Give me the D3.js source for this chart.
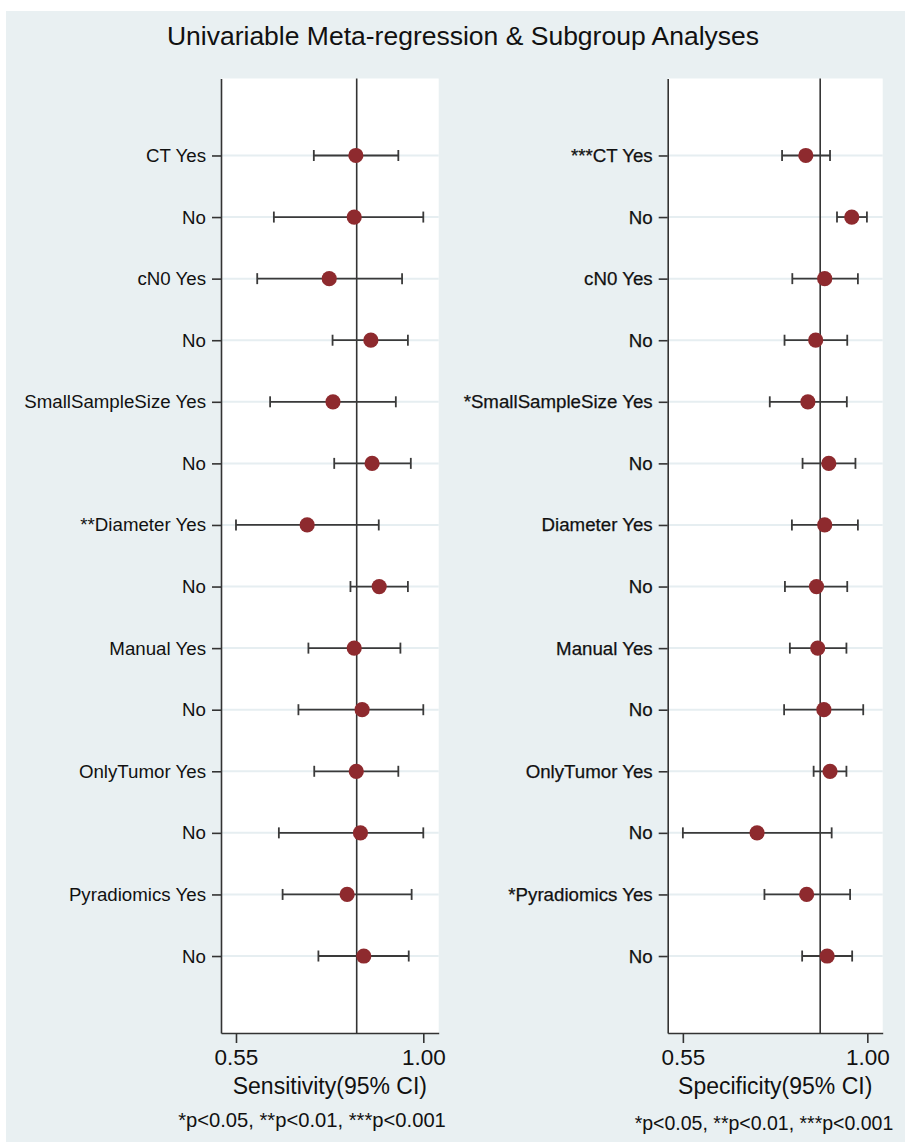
<!DOCTYPE html>
<html>
<head>
<meta charset="utf-8">
<script src="https://cdn.jsdelivr.net/npm/d3@7"></script>
<style>
  html, body { margin: 0; padding: 0; background: #ffffff; }
  svg { display: block; font-family: "Liberation Sans", Arial, Helvetica, sans-serif; }
</style>
</head>
<body>
<svg id="chart" width="905" height="1142"></svg>
<script>
// Subgroup rows, top to bottom
const sensLabels = ["CT Yes", "No", "cN0 Yes", "No", "SmallSampleSize Yes", "No",
  "**Diameter Yes", "No", "Manual Yes", "No", "OnlyTumor Yes", "No", "Pyradiomics Yes", "No"];
const specLabels = ["***CT Yes", "No", "cN0 Yes", "No", "*SmallSampleSize Yes", "No",
  "Diameter Yes", "No", "Manual Yes", "No", "OnlyTumor Yes", "No", "*Pyradiomics Yes", "No"];

// Sensitivity estimates with 95% CI
const sensEst  = [0.838, 0.834, 0.774, 0.874, 0.783, 0.877, 0.721, 0.894, 0.834, 0.853, 0.839, 0.849, 0.817, 0.857];
const sensLow  = [0.737, 0.641, 0.601, 0.782, 0.632, 0.786, 0.550, 0.825, 0.724, 0.700, 0.738, 0.653, 0.662, 0.748];
const sensHigh = [0.940, 1.000, 0.949, 0.963, 0.934, 0.970, 0.893, 0.963, 0.945, 1.000, 0.940, 1.000, 0.972, 0.965];

// Specificity estimates with 95% CI
const specEst  = [0.850, 0.962, 0.896, 0.874, 0.855, 0.906, 0.896, 0.876, 0.879, 0.894, 0.909, 0.731, 0.852, 0.902];
const specLow  = [0.792, 0.926, 0.817, 0.798, 0.762, 0.842, 0.816, 0.799, 0.811, 0.797, 0.869, 0.550, 0.749, 0.841];
const specHigh = [0.909, 0.999, 0.977, 0.951, 0.950, 0.971, 0.977, 0.951, 0.949, 0.990, 0.949, 0.913, 0.958, 0.963];

// Pooled estimates (vertical reference lines)
const sensPooled = 0.840;
const specPooled = 0.885;

const xTicks = [0.55, 1.00];
const footnote = "*p<0.05, **p<0.01, ***p<0.001";

const svg = d3.select("#chart");
const W = 905, H = 1142;

// Graph region background
svg.append("rect").attr("x", 6).attr("y", 11).attr("width", W - 6).attr("height", H - 11)
  .attr("fill", "#e9f0f2");

svg.append("text")
  .attr("x", 463).attr("y", 45)
  .attr("text-anchor", "middle")
  .attr("font-size", 26.5)
  .attr("fill", "#111")
  .text("Univariable Meta-regression & Subgroup Analyses");

const plotTop = 78.5, plotBottom = 1033;
const rowIdx = d3.range(1, 15);
const y = d3.scaleLinear().domain([-0.25, 15.25]).range([plotTop, plotBottom]);

function panel(opts) {
  const { x0, x1, domain, labels, est, low, high, pooled, title, labelStroke, footX, footY, footSize } = opts;
  const x = d3.scaleLinear().domain(domain).range([x0, x1]);
  const g = svg.append("g");

  // plot area
  g.append("rect").attr("x", x0).attr("y", plotTop)
    .attr("width", x1 - x0).attr("height", plotBottom - plotTop)
    .attr("fill", "#ffffff");

  // horizontal gridlines at each row
  g.selectAll("line.grid").data(rowIdx).join("line")
    .attr("class", "grid")
    .attr("x1", x0).attr("x2", x1)
    .attr("y1", d => y(d)).attr("y2", d => y(d))
    .attr("stroke", "#e6eef1").attr("stroke-width", 2);

  // pooled reference line
  g.append("line")
    .attr("x1", x(pooled)).attr("x2", x(pooled))
    .attr("y1", plotTop).attr("y2", plotBottom)
    .attr("stroke", "#333").attr("stroke-width", 1.6);

  // y axis
  const yAxis = d3.axisLeft(y).tickValues(rowIdx)
    .tickFormat(d => labels[d - 1]).tickSize(9).tickPadding(6).tickSizeOuter(0);
  const ya = g.append("g").attr("transform", `translate(${x0},0)`).call(yAxis);
  ya.select(".domain").attr("stroke", "#333").attr("stroke-width", 1.6);
  ya.selectAll(".tick line").attr("stroke", "#333").attr("stroke-width", 1.6);
  ya.selectAll(".tick text")
    .attr("font-size", 18.7).attr("fill", "#111")
    .attr("font-family", "Liberation Sans, Arial, sans-serif")
    .attr("stroke", labelStroke ? "#111" : null)
    .attr("stroke-width", labelStroke || null);

  // x axis
  const xAxis = d3.axisBottom(x).tickValues(xTicks).tickFormat(d3.format(".2f"))
    .tickSize(10).tickPadding(6).tickSizeOuter(0);
  const xa = g.append("g").attr("transform", `translate(0,${plotBottom})`).call(xAxis);
  xa.select(".domain").attr("stroke", "#333").attr("stroke-width", 1.6);
  xa.selectAll(".tick line").attr("stroke", "#333").attr("stroke-width", 1.6);
  xa.selectAll(".tick text")
    .attr("font-size", 22.5).attr("fill", "#111")
    .attr("font-family", "Liberation Sans, Arial, sans-serif");

  g.append("text")
    .attr("x", (x0 + x1) / 2).attr("y", 1094)
    .attr("text-anchor", "middle")
    .attr("font-size", 23).attr("fill", "#111")
    .text(title);

  g.append("text")
    .attr("x", footX).attr("y", footY)
    .attr("text-anchor", "middle")
    .attr("font-size", footSize).attr("fill", "#111")
    .text(footnote);

  // confidence intervals
  const ci = g.selectAll("g.ci").data(rowIdx).join("g").attr("class", "ci");
  ci.append("line")
    .attr("x1", d => x(low[d - 1])).attr("x2", d => x(high[d - 1]))
    .attr("y1", d => y(d)).attr("y2", d => y(d))
    .attr("stroke", "#3a3a3a").attr("stroke-width", 1.8);
  ci.append("line")
    .attr("x1", d => x(low[d - 1])).attr("x2", d => x(low[d - 1]))
    .attr("y1", d => y(d) - 5.5).attr("y2", d => y(d) + 5.5)
    .attr("stroke", "#3a3a3a").attr("stroke-width", 1.8);
  ci.append("line")
    .attr("x1", d => x(high[d - 1])).attr("x2", d => x(high[d - 1]))
    .attr("y1", d => y(d) - 5.5).attr("y2", d => y(d) + 5.5)
    .attr("stroke", "#3a3a3a").attr("stroke-width", 1.8);

  // point estimates
  g.selectAll("circle.pt").data(rowIdx).join("circle")
    .attr("class", "pt")
    .attr("cx", d => x(est[d - 1])).attr("cy", d => y(d))
    .attr("r", 7.6)
    .attr("fill", "#8e2a2e");
}

panel({
  x0: 221, x1: 438.7, domain: [0.514, 1.037],
  labels: sensLabels, est: sensEst, low: sensLow, high: sensHigh,
  pooled: sensPooled, title: "Sensitivity(95% CI)",
  labelStroke: 0, footX: 312, footY: 1127, footSize: 20.2
});

panel({
  x0: 667.7, x1: 882.7, domain: [0.513, 1.0375],
  labels: specLabels, est: specEst, low: specLow, high: specHigh,
  pooled: specPooled, title: "Specificity(95% CI)",
  labelStroke: 0.25, footX: 764, footY: 1130, footSize: 19.5
});
</script>
</body>
</html>
